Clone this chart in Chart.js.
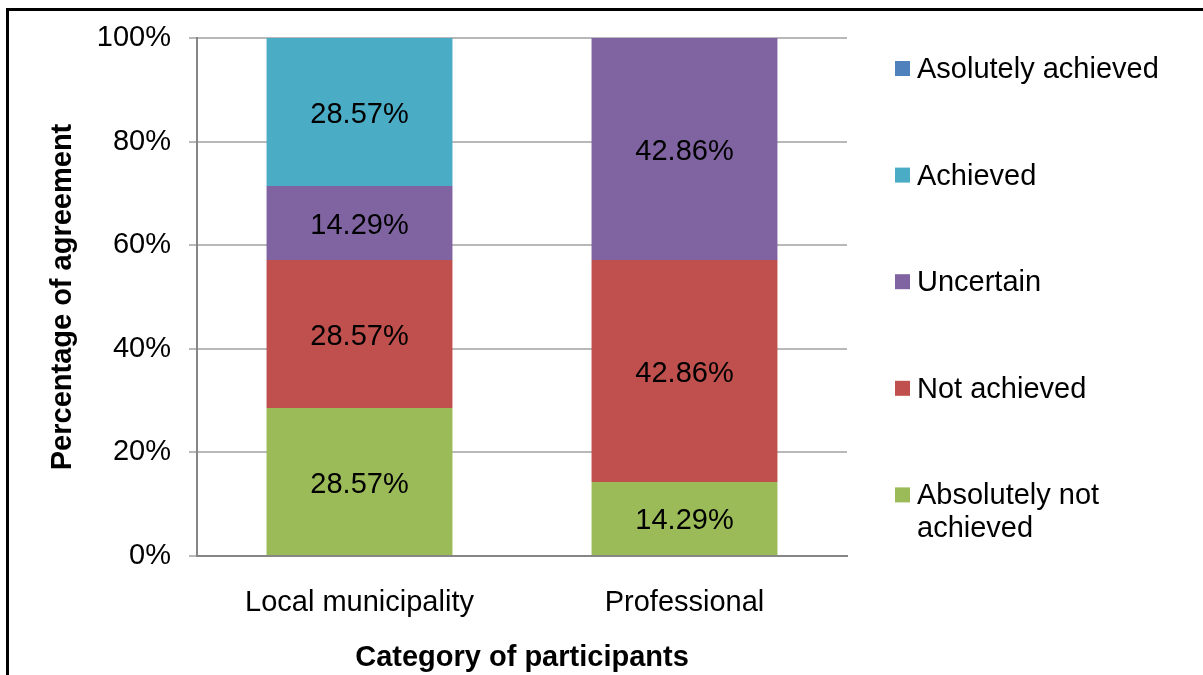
<!DOCTYPE html>
<html>
<head>
<meta charset="utf-8">
<script src="https://cdn.jsdelivr.net/npm/chart.js@4.4.1/dist/chart.umd.min.js"></script>
<style>
  body { margin: 0; background: #fff; }
  canvas { display: block; }
</style>
</head>
<body>
<canvas id="myChart" width="1203" height="675"></canvas>
<script>
var categories = ["Local municipality", "Professional"];
var seriesNames = ["Absolutely not achieved", "Not achieved", "Uncertain", "Achieved", "Asolutely achieved"];
var absNotAchieved = [28.57, 14.29];
var notAchieved = [28.57, 42.86];
var uncertain = [14.29, 42.86];
var achieved = [28.57, 0];
var absAchieved = [0, 0];
var yTicks = [0, 20, 40, 60, 80, 100];

var colors = ["#9BBB59", "#C0504D", "#8064A2", "#4BACC6", "#4F81BD"];
var legendLines = [["Asolutely achieved"], ["Achieved"], ["Uncertain"], ["Not achieved"], ["Absolutely not", "achieved"]];
var FONT = "Liberation Sans, Arial, sans-serif";

var values = [absNotAchieved, notAchieved, uncertain, achieved, absAchieved];
var datasets = values.map(function (v, i) {
  return {
    label: seriesNames[i],
    data: v,
    backgroundColor: colors[i],
    borderWidth: 0,
    categoryPercentage: 1,
    barPercentage: 0.572
  };
});

// labels inside the bars
var barLabels = {
  id: "barLabels",
  afterDatasetsDraw: function (chart) {
    var ctx = chart.ctx;
    ctx.save();
    ctx.font = "29px " + FONT;
    ctx.fillStyle = "#000";
    ctx.textAlign = "center";
    ctx.textBaseline = "middle";
    chart.data.datasets.forEach(function (ds, i) {
      var meta = chart.getDatasetMeta(i);
      meta.data.forEach(function (bar, j) {
        var v = ds.data[j];
        if (!v) return;
        ctx.fillText(v.toFixed(2) + "%", bar.x, (bar.y + bar.base) / 2 + 3);
      });
    });
    ctx.restore();
  }
};

// legend on the right + frame lines
var sideLegend = {
  id: "sideLegend",
  afterDraw: function (chart) {
    var ctx = chart.ctx;
    var area = chart.chartArea;
    ctx.save();
    ctx.font = "29px " + FONT;
    ctx.textBaseline = "middle";
    ctx.textAlign = "left";
    for (var k = 0; k < legendLines.length; k++) {
      var y = area.top + 31 + k * 106.6;
      ctx.fillStyle = colors[colors.length - 1 - k];
      ctx.fillRect(895, y - 8, 15, 15);
      ctx.fillStyle = "#000";
      legendLines[k].forEach(function (t, n) {
        ctx.fillText(t, 917, y + 1 + n * 33);
      });
    }
    ctx.strokeStyle = "#000";
    ctx.lineWidth = 3;
    ctx.beginPath();
    ctx.moveTo(7.5, 675);
    ctx.lineTo(7.5, 9.5);
    ctx.lineTo(1203, 9.5);
    ctx.stroke();
    ctx.restore();
  }
};

new Chart("myChart", {
  type: "bar",
  data: {
    labels: categories,
    datasets: datasets
  },
  options: {
    responsive: false,
    animation: false,
    layout: { padding: { top: 38, right: 356, left: 0, bottom: 0 } },
    plugins: {
      legend: { display: false },
      tooltip: { enabled: false }
    },
    scales: {
      x: {
        stacked: true,
        grid: { display: false },
        border: { display: true, color: "#868686", width: 2 },
        ticks: { color: "#000", font: { family: FONT, size: 29 }, padding: 22 },
        title: {
          display: true,
          text: "Category of participants",
          color: "#000",
          font: { family: FONT, size: 29, weight: "bold" },
          padding: { top: 0, bottom: 0 }
        },
        afterFit: function (s) { s.height = 119; }
      },
      y: {
        stacked: true,
        min: 0,
        max: 100,
        afterBuildTicks: function (s) {
          s.ticks = yTicks.map(function (v) { return { value: v }; });
        },
        grid: { color: "#b8b8b8", lineWidth: 2, tickLength: 8 },
        border: { display: true, color: "#868686", width: 2 },
        ticks: {
          color: "#000",
          font: { family: FONT, size: 29 },
          padding: 18,
          callback: function (v) { return v + "%"; }
        },
        title: {
          display: true,
          text: "Percentage of agreement",
          color: "#000",
          font: { family: FONT, size: 29, weight: "bold" },
          padding: { top: 46, bottom: 0 }
        },
        afterFit: function (s) { s.width = 197; }
      }
    }
  },
  plugins: [barLabels, sideLegend]
});
</script>
</body>
</html>
